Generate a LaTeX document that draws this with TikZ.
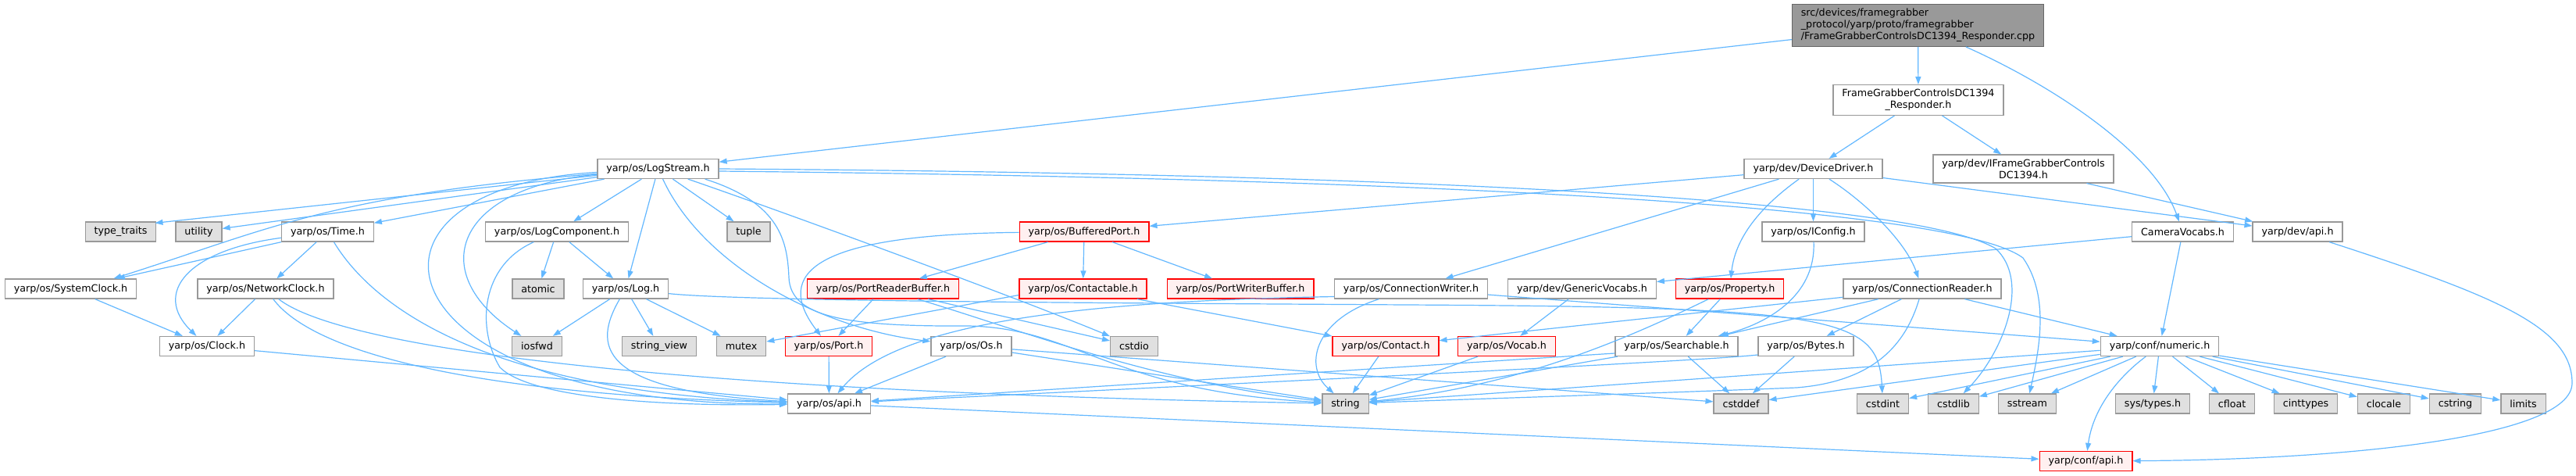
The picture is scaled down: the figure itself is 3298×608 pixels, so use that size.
\documentclass[tikz,border=0pt]{standalone}
\usepackage{fontspec}
\setmainfont{DejaVu Sans}
\usepackage{tikz}
\usetikzlibrary{arrows.meta}
\definecolor{EdgeBlue}{HTML}{63B8FF}
\definecolor{LineGray}{HTML}{999999}
\definecolor{RootGray}{HTML}{999999}
\definecolor{RootLine}{HTML}{666666}
\definecolor{SysFill}{HTML}{E0E0E0}
\definecolor{TruncRed}{HTML}{FF0000}
\definecolor{TruncFill}{HTML}{FFF0F0}

\begin{document}
\begin{tikzpicture}[x=1pt, y=-1pt,
    every node/.style={font=\fontsize{12.7}{15}\selectfont, line width=1.3pt,
      inner xsep=11.4pt, inner ysep=5.5pt, minimum height=25pt},
    hdrbox/.style={draw=LineGray, fill=white},
    sysbox/.style={draw=LineGray, fill=SysFill},
    redbox/.style={draw=TruncRed, fill=TruncFill},
    rootbox/.style={draw=RootLine, fill=RootGray, align=left},
    incl/.style={draw=EdgeBlue, line width=1.2pt, -{Triangle[length=10pt,width=7pt]}}]
  \path[fill=white] (0,0) rectangle (3298,608);
  \useasboundingbox (0,0) rectangle (3298,608);

  % top of the graph
  \node[rootbox] (cpp) at (2455.5,32.5) {src/devices/framegrabber\\\_protocol/yarp/proto/framegrabber\\/FrameGrabberControlsDC1394\_Responder.cpp};
  \node[hdrbox, align=center] (resp) at (2456,128) {FrameGrabberControlsDC1394\\\_Responder.h};
  \node[hdrbox, align=center] (ifgc) at (2590.5,216) {yarp/dev/IFrameGrabberControls\\DC1394.h};
  \node[hdrbox] (logstream) at (842.5,216) {yarp/os/LogStream.h};
  \node[hdrbox] (devdrv) at (2321.5,216) {yarp/dev/DeviceDriver.h};

  % rows of headers
  \foreach \n/\t/\x/\s in {typetraits/{type\_traits}/154.5/sysbox, utility/utility/254.5/sysbox,
      time/{yarp/os/Time.h}/419.5/hdrbox, logcomp/{yarp/os/LogComponent.h}/713/hdrbox,
      tuple/tuple/958.5/sysbox, bufport/{yarp/os/BufferedPort.h}/1388/redbox,
      iconfig/{yarp/os/IConfig.h}/2321.5/hdrbox, camvoc/{CameraVocabs.h}/2794.5/hdrbox,
      devapi/{yarp/dev/api.h}/2941.5/hdrbox}
    \node[\s] (\n) at (\x,296.5) {\t};
  \foreach \n/\t/\x/\s in {syscl/{yarp/os/SystemClock.h}/90.5/hdrbox, netcl/{yarp/os/NetworkClock.h}/340/hdrbox,
      atomic/atomic/689/sysbox, log/{yarp/os/Log.h}/801/hdrbox,
      prbuf/{yarp/os/PortReaderBuffer.h}/1130.5/redbox, contactable/{yarp/os/Contactable.h}/1386.5/redbox,
      pwbuf/{yarp/os/PortWriterBuffer.h}/1588/redbox, connwriter/{yarp/os/ConnectionWriter.h}/1806.5/hdrbox,
      genvoc/{yarp/dev/GenericVocabs.h}/2025.5/hdrbox, property/{yarp/os/Property.h}/2214.5/redbox,
      connreader/{yarp/os/ConnectionReader.h}/2461/hdrbox}
    \node[\s] (\n) at (\x,369.5) {\t};
  \foreach \n/\t/\x/\s in {clock/{yarp/os/Clock.h}/265/hdrbox, iosfwd/iosfwd/687.5/sysbox,
      strview/{string\_view}/844/sysbox, mutex/mutex/949/sysbox, port/{yarp/os/Port.h}/1061/redbox,
      os/{yarp/os/Os.h}/1243.5/hdrbox, cstdio/cstdio/1452/sysbox, contact/{yarp/os/Contact.h}/1774/redbox,
      vocab/{yarp/os/Vocab.h}/1929/redbox, searchable/{yarp/os/Searchable.h}/2146.5/hdrbox,
      bytes/{yarp/os/Bytes.h}/2312/hdrbox, numeric/{yarp/conf/numeric.h}/2765/hdrbox}
    \node[\s] (\n) at (\x,443) {\t};
  \foreach \n/\t/\x/\s in {osapi/{yarp/os/api.h}/1061.5/hdrbox, string/string/1722.5/sysbox,
      cstddef/cstddef/2229/sysbox, cstdint/cstdint/2410.5/sysbox, cstdlib/cstdlib/2501/sysbox,
      sstream/sstream/2595.5/sysbox, systypes/{sys/types.h}/2756/sysbox, cfloat/cfloat/2857.5/sysbox,
      cinttypes/cinttypes/2952/sysbox, clocale/clocale/3052/sysbox, cstring/cstring/3143.5/sysbox,
      limits/limits/3230.5/sysbox}
    \node[\s] (\n) at (\x,516.5) {\t};
  \node[redbox] (confapi) at (2670.5,590) {yarp/conf/api.h};

  % straight includes
  \foreach \a/\b in {cpp/logstream, cpp/resp, resp/devdrv, resp/ifgc, ifgc/devapi,
      camvoc/genvoc, camvoc/numeric, devdrv/bufport, devdrv/connwriter, devdrv/iconfig, devdrv/devapi,
      logstream/utility, logstream/time, logstream/logcomp, logstream/log, logstream/tuple,
      time/syscl, time/netcl, syscl/clock, netcl/clock, clock/osapi,
      logcomp/atomic, logcomp/log, log/iosfwd, log/strview, log/mutex,
      port/osapi, prbuf/port, prbuf/cstdio, bufport/prbuf, bufport/contactable, bufport/pwbuf,
      contactable/contact, connwriter/numeric, genvoc/vocab, vocab/string, contact/string,
      property/searchable, searchable/string, searchable/cstddef,
      connreader/contact, connreader/searchable, connreader/bytes, connreader/numeric,
      os/osapi, os/cstddef, os/string, bytes/cstddef,
      numeric/string, numeric/cstddef, numeric/cstdint, numeric/cstdlib, numeric/sstream,
      numeric/systypes, numeric/cfloat, numeric/cinttypes, numeric/clocale, numeric/cstring, numeric/limits,
      osapi/confapi}
    \draw[incl] (\a) -- (\b);

  % curved includes
  \draw[incl] (logstream) -- ([xshift=-2pt,yshift=-2pt]typetraits.north east);
  \draw[incl] (cpp) .. controls (2640,115) and (2760,200) .. (camvoc);
  \draw[incl] (devapi) .. controls (3200,380) and (3293,420) .. (3293,490)
    .. controls (3293,560) and (3000,588) .. (confapi);
  \draw[incl] (devdrv) .. controls (2260,260) and (2222,300) .. (property);
  \draw[incl] (devdrv) .. controls (2390,260) and (2440,310) .. (connreader);
  \draw[incl] (logstream) .. controls (420,250) and (340,295) .. ([xshift=55pt]syscl.north);
  \draw[incl] (logstream) .. controls (580,240) and (545,350) .. (iosfwd);
  \draw[incl] (logstream) .. controls (420,240) and (480,520) .. (osapi);
  \draw[incl] (logstream) .. controls (900,340) and (1050,420) .. (os);
  \draw[incl] (logstream) .. controls (1000,270) and (1300,380) .. (cstdio);
  \draw[incl] ([xshift=-18pt]logstream.south east) .. controls (1000,260) and (1008,310) .. (1010,355)
    .. controls (1012,405) and (1080,418) .. (1240,417)
    .. controls (1380,420) and (1420,500) .. (string);
  \draw[incl] (logstream.east) .. controls (1800,222) and (2450,255) .. (2555,318)
    .. controls (2600,360) and (2565,450) .. (cstdlib);
  \draw[incl] ([yshift=-3pt]logstream.east) .. controls (1800,228) and (2500,262) .. (2590,330)
    .. controls (2625,380) and (2610,450) .. (sstream);
  \draw[incl] (time) .. controls (240,320) and (195,375) .. (clock);
  \draw[incl] (time) .. controls (470,380) and (600,500) .. (osapi);
  \draw[incl] (netcl) .. controls (400,450) and (600,505) .. (osapi);
  \draw[incl] (netcl) .. controls (430,440) and (800,500) .. (string);
  \draw[incl] (logcomp) .. controls (615,340) and (610,420) .. (640,470)
    .. controls (680,510) and (850,520) .. (osapi);
  \draw[incl] (log) .. controls (760,440) and (760,500) .. (osapi);
  \draw[incl] (log) .. controls (950,386) and (1500,388) .. (1800,390)
    .. controls (2350,393) and (2405,405) .. (cstdint);
  \draw[incl] (bufport) .. controls (1040,300) and (990,350) .. (port);
  \draw[incl] (prbuf) .. controls (1300,420) and (1480,490) .. (string);
  \draw[incl] ([yshift=-8pt]contactable.west) -- (mutex);
  \draw[incl] ([yshift=-10pt]connwriter.west) .. controls (1400,385) and (1150,410) .. (osapi);
  \draw[incl] (connwriter) .. controls (1680,410) and (1670,470) .. (string);
  \draw[incl] (property) .. controls (2100,425) and (1950,495) .. (string);
  \draw[incl] (iconfig) .. controls (2325,380) and (2260,415) .. (searchable);
  \draw[incl] ([yshift=-9pt]searchable.west) -- (osapi);
  \draw[incl] (connreader) .. controls (2440,440) and (2400,488) .. (2300,496)
    .. controls (2150,502) and (1900,510) .. (string);
  \draw[incl] ([yshift=-11pt]bytes.west) .. controls (2180,462) and (1600,490) .. (osapi);
  \draw[incl] (numeric) .. controls (2715,480) and (2680,520) .. (confapi);
\end{tikzpicture}
\end{document}
